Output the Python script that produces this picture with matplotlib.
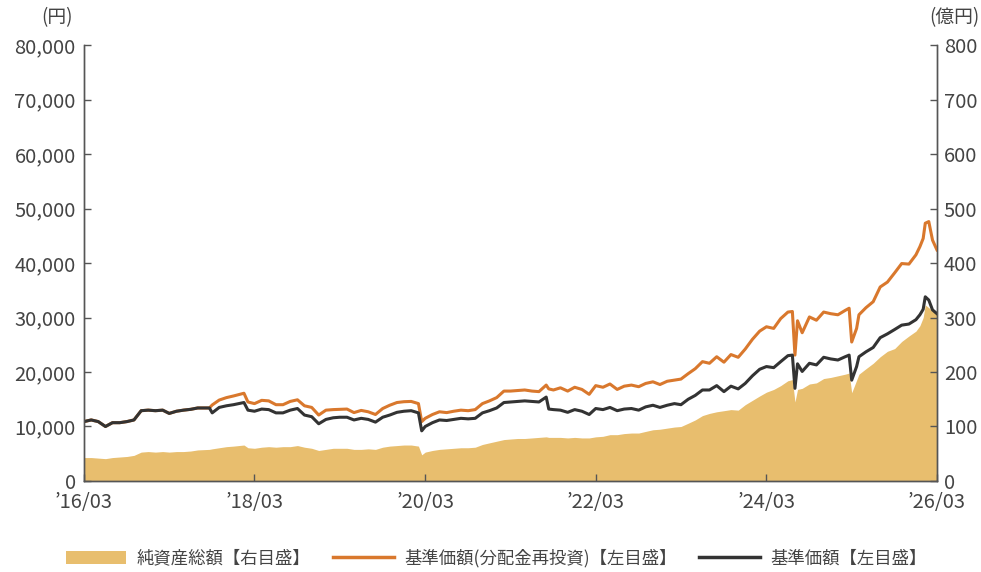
import matplotlib
matplotlib.use("Agg")
import matplotlib.pyplot as plt
import matplotlib.dates as mdates
from matplotlib.patches import Patch
from matplotlib.lines import Line2D
from matplotlib.ticker import FuncFormatter
import pandas as pd

plt.rcParams['font.family'] = ['Noto Sans CJK JP', 'DejaVu Sans']

# values
dates = [
    "2016-03-01", "2016-04-01", "2016-05-01", "2016-06-01", "2016-07-01", "2016-08-01",
    "2016-09-01", "2016-10-01", "2016-11-01", "2016-12-01", "2017-01-01", "2017-02-01",
    "2017-03-01", "2017-04-01", "2017-05-01", "2017-06-01", "2017-07-01", "2017-08-20",
    "2017-09-01", "2017-10-01", "2017-11-01", "2017-12-01", "2018-01-15", "2018-02-01",
    "2018-03-01", "2018-04-01", "2018-05-01", "2018-06-01", "2018-07-01", "2018-08-01",
    "2018-09-01", "2018-10-01", "2018-11-01", "2018-12-01", "2019-01-01", "2019-02-01",
    "2019-03-01", "2019-04-01", "2019-05-01", "2019-06-01", "2019-07-01", "2019-08-01",
    "2019-09-01", "2019-10-01", "2019-11-01", "2019-12-01", "2020-01-01", "2020-02-01",
    "2020-02-15", "2020-03-01", "2020-04-01", "2020-05-01", "2020-06-01", "2020-07-01",
    "2020-08-01", "2020-09-01", "2020-10-01", "2020-11-01", "2020-12-01", "2021-01-01",
    "2021-02-01", "2021-03-01", "2021-04-01", "2021-05-01", "2021-06-01", "2021-07-01",
    "2021-08-01", "2021-08-12", "2021-09-01", "2021-10-01", "2021-11-01", "2021-12-01",
    "2022-01-01", "2022-02-01", "2022-03-01", "2022-04-01", "2022-05-01", "2022-06-01",
    "2022-07-01", "2022-08-01", "2022-09-01", "2022-10-01", "2022-11-01", "2022-12-01",
    "2023-01-01", "2023-02-01", "2023-03-01", "2023-04-01", "2023-05-01", "2023-06-01",
    "2023-07-01", "2023-08-01", "2023-09-01", "2023-10-01", "2023-11-01", "2023-12-01",
    "2024-01-01", "2024-02-01", "2024-03-01", "2024-04-01", "2024-05-01", "2024-06-01",
    "2024-06-20", "2024-07-01", "2024-07-12", "2024-08-01", "2024-09-01", "2024-10-01",
    "2024-11-01", "2024-12-01", "2025-01-01", "2025-02-01", "2025-02-18", "2025-03-01",
    "2025-03-22", "2025-04-01", "2025-05-01", "2025-06-01", "2025-07-01", "2025-08-01",
    "2025-09-01", "2025-10-01", "2025-11-01", "2025-12-01", "2025-12-18", "2026-01-01",
    "2026-01-10", "2026-01-25", "2026-02-10", "2026-03-01",
]

nav = [
    10900, 11200, 10900, 10000, 10700, 10700,
    10900, 11200, 12900, 13000, 12900, 13000,
    12400, 12800, 13000, 13150, 13400, 13400,
    12500, 13500, 13800, 14000, 14400, 13000,
    12800, 13200, 13100, 12500, 12500, 13000,
    13300, 12100, 11800, 10500, 11300, 11600,
    11700, 11700, 11200, 11500, 11300, 10800,
    11700, 12100, 12600, 12800, 12900, 12500,
    9200, 10000, 10700, 11200, 11100, 11300,
    11500, 11400, 11500, 12500, 12900, 13400,
    14400, 14500, 14600, 14700, 14600, 14500,
    15400, 13200, 13100, 13000, 12600, 13100,
    12800, 12200, 13300, 13100, 13500, 12900,
    13200, 13300, 13000, 13600, 13900, 13500,
    13900, 14200, 14000, 15000, 15700, 16700,
    16700, 17500, 16400, 17400, 16900, 17900,
    19300, 20500, 21000, 20800, 21900, 23000,
    23100, 17000, 21500, 20100, 21600, 21300,
    22700, 22400, 22200, 22800, 23100, 18500,
    21000, 22800, 23700, 24500, 26300, 27000,
    27800, 28600, 28800, 29600, 30500, 31500,
    33800, 33200, 31400, 30700,
]

nav_reinvest = [
    10900, 11200, 10900, 10000, 10700, 10700,
    10900, 11200, 12900, 13000, 12900, 13000,
    12400, 12800, 13000, 13150, 13400, 13400,
    13950, 14850, 15300, 15600, 16100, 14500,
    14200, 14800, 14700, 14000, 14000, 14600,
    14900, 13800, 13500, 12100, 13000, 13100,
    13150, 13200, 12550, 12950, 12700, 12200,
    13300, 13900, 14400, 14550, 14600, 14200,
    10900, 11500, 12200, 12700, 12550, 12800,
    13000, 12900, 13100, 14200, 14700, 15300,
    16500, 16500, 16600, 16700, 16500, 16400,
    17600, 16900, 16700, 17100, 16500, 17200,
    16800, 15900, 17500, 17200, 17800, 16800,
    17400, 17600, 17300, 17900, 18200, 17700,
    18300, 18500, 18700, 19700, 20600, 21900,
    21600, 22800, 21800, 23200, 22700, 24200,
    26000, 27500, 28300, 28000, 29800, 31000,
    31100, 23100, 29400, 27200, 30100, 29500,
    31000, 30700, 30500, 31300, 31700, 25500,
    28000, 30500, 31800, 32900, 35600, 36500,
    38200, 39900, 39800, 41500, 43000, 44500,
    47300, 47600, 44200, 42400,
]

net_assets = [
    43, 43, 42, 41, 43, 44,
    45, 47, 53, 54, 53, 54,
    53, 54, 54, 55, 57, 58,
    59, 61, 63, 64, 66, 61,
    60, 62, 63, 62, 63, 63,
    65, 62, 60, 56, 58, 60,
    60, 60, 58, 58, 59, 58,
    62, 64, 65, 66, 66, 64,
    48, 53, 56, 58, 59, 60,
    61, 61, 62, 67, 70, 73,
    76, 77, 78, 78, 79, 80,
    81, 80, 80, 80, 79, 80,
    79, 79, 81, 82, 85, 85,
    87, 88, 88, 91, 94, 95,
    97, 99, 100, 106, 112, 120,
    124, 127, 129, 131, 130, 140,
    148, 156, 163, 168, 175, 184,
    186, 145, 168, 170, 178, 180,
    188, 190, 193, 196, 198, 162,
    185, 196, 206, 216, 228, 238,
    243, 256, 266, 275, 285, 300,
    323, 318, 312, 307,
]

xtick_dates = ["2016-03-01", "2018-03-01", "2020-03-01", "2022-03-01", "2024-03-01", "2026-03-01"]
xtick_labels = ["\u201916/03", "\u201918/03", "\u201920/03", "\u201922/03", "\u201924/03", "\u201926/03"]

legend_labels = ["純資産総額【右目盛】", "基準価額(分配金再投資)【左目盛】", "基準価額【左目盛】"]

AREA_C = "#E8BE6E"
ORANGE = "#D9782D"
DARK = "#333333"
SPINE = "#555555"
TXT = "#444444"

x = pd.to_datetime(dates)

fig = plt.figure(figsize=(9.81, 5.72), dpi=100)
ax = fig.add_axes([0.0856, 0.1591, 0.8695, 0.7622])
ax2 = ax.twinx()

ax2.fill_between(x, 0, net_assets, color=AREA_C, linewidth=0)
ax.plot(x, nav_reinvest, color=ORANGE, lw=2.2)
ax.plot(x, nav, color=DARK, lw=2.2)

ax.set_zorder(ax2.get_zorder() + 1)
ax.patch.set_visible(False)

ax.set_xlim(pd.Timestamp(dates[0]), pd.Timestamp(dates[-1]))
ax.set_ylim(0, 80000)
ax2.set_ylim(0, 800)
ax.set_yticks(range(0, 80001, 10000))
ax2.set_yticks(range(0, 801, 100))
ax.yaxis.set_major_formatter(FuncFormatter(lambda v, p: "{:,}".format(int(v))))
ax.set_xticks(pd.to_datetime(xtick_dates))
ax.set_xticklabels(xtick_labels)

for a in (ax, ax2):
    a.spines['top'].set_visible(False)
    for s in ('left', 'right', 'bottom'):
        a.spines[s].set_color(SPINE)
        a.spines[s].set_linewidth(1.0)
    a.tick_params(direction='in', length=5, width=1, color=SPINE, labelcolor=TXT, labelsize=14.5)
ax.tick_params(axis='y', pad=6)
ax2.tick_params(axis='y', pad=5)
ax.tick_params(axis='x', pad=8)

fig.text(73 / 981, 1 - 18 / 572, "(円)", ha='right', va='center', fontsize=13.5, color=TXT)
fig.text(929 / 981, 1 - 18 / 572, "(億円)", ha='left', va='center', fontsize=13.5, color=TXT)

handles = [
    Patch(facecolor=AREA_C, edgecolor='none'),
    Line2D([0], [0], color=ORANGE, lw=2.5),
    Line2D([0], [0], color=DARK, lw=2.5),
]
leg = fig.legend(handles, legend_labels, loc='center', bbox_to_anchor=(0.506, 1 - 558 / 572),
                 ncol=3, frameon=False, fontsize=12.5, handlelength=3.5, handleheight=0.75,
                 handletextpad=0.6, columnspacing=1.3)
for t in leg.get_texts():
    t.set_color(TXT)

fig.savefig("out.png", dpi=100)
